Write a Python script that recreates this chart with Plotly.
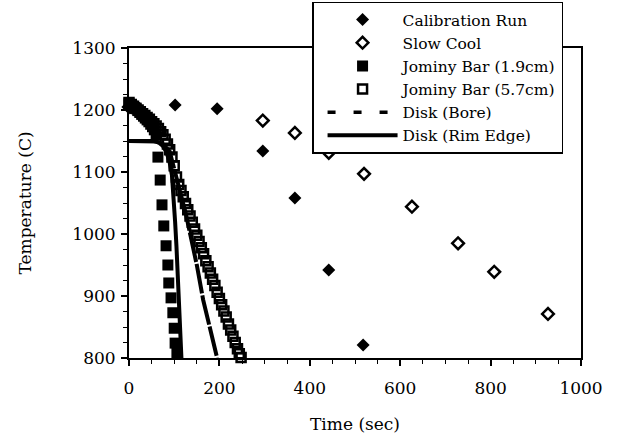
import plotly.graph_objects as go

# ---- data ----
cal_t = [0, 102, 195, 296, 367, 442, 518]
cal_T = [1205, 1208, 1202, 1134, 1058, 942, 821]

slow_t = [0, 296, 367, 442, 520, 626, 728, 808, 927]
slow_T = [1205, 1183, 1163, 1131, 1097, 1044, 985, 939, 871]

j19_t = [0, 4, 8, 12, 16, 20, 24, 28, 32, 36, 40, 44, 48, 52, 56, 60,
         64, 69, 73, 77, 82, 86, 88, 93, 97, 100, 102, 106]
j19_T = [1210, 1208, 1206, 1204, 1202, 1199, 1196, 1193, 1190, 1187, 1184, 1181, 1177, 1173, 1168, 1160,
         1124, 1087, 1047, 1013, 981, 950, 921, 897, 873, 848, 824, 808]

j57_t = [0, 5, 10, 15, 20, 25, 30, 35, 40, 45, 50, 55, 60, 65, 70, 75, 80, 85, 90, 95,
         100, 105, 110, 115, 120, 125, 130, 135, 140, 145, 150, 155, 160, 165, 170, 175,
         180, 185, 190, 195, 200, 205, 210, 215, 220, 225, 230, 235, 240, 244, 248]
j57_T = [1212, 1209, 1206, 1203, 1200, 1197, 1194, 1191, 1188, 1185, 1181, 1178, 1174, 1170, 1165, 1160,
         1153, 1145, 1136, 1124, 1110, 1092, 1080, 1070, 1060, 1049, 1039, 1029, 1019, 1008, 998, 988,
         978, 968, 957, 947, 937, 927, 917, 906, 896, 886, 876, 866, 855, 845, 835, 825, 815, 807, 801]

bore_t = [0, 30, 60, 75, 90, 100, 106, 113, 125, 135, 150, 164, 180, 195]
bore_T = [1150, 1150, 1149, 1145, 1133, 1105, 1085, 1068, 1035, 1002, 950, 894, 845, 800]

rim_t = [0, 20, 40, 55, 65, 75, 83, 90, 95, 99, 102, 105, 108, 111, 114, 116]
rim_T = [1150, 1150, 1150, 1150, 1148, 1142, 1132, 1115, 1095, 1060, 1020, 980, 930, 880, 830, 800]

x_ticks = [0, 200, 400, 600, 800, 1000]
y_ticks = [800, 900, 1000, 1100, 1200, 1300]

FONT = "DejaVu Serif"
BLACK = "black"

fig = go.Figure()

fig.add_trace(go.Scatter(x=cal_t, y=cal_T, mode="markers", name="Calibration Run",
                         marker=dict(symbol="diamond", size=10, color=BLACK), cliponaxis=False))
fig.add_trace(go.Scatter(x=slow_t, y=slow_T, mode="markers", name="Slow Cool",
                         marker=dict(symbol="diamond-open", size=9, color=BLACK,
                                     line=dict(color=BLACK, width=2.5)), cliponaxis=False))
fig.add_trace(go.Scatter(x=j19_t, y=j19_T, mode="markers", name="Jominy Bar (1.9cm)",
                         marker=dict(symbol="square", size=11, color=BLACK), cliponaxis=False))
fig.add_trace(go.Scatter(x=j57_t, y=j57_T, mode="markers", name="Jominy Bar (5.7cm)",
                         marker=dict(symbol="square-open", size=9, color=BLACK,
                                     line=dict(color=BLACK, width=2.5)), cliponaxis=False))
# legend sample for the bore line
fig.add_trace(go.Scatter(x=[None], y=[None], mode="lines", name="Disk (Bore)",
                         line=dict(color=BLACK, width=3.5, dash="8px,18px"), legendgroup="bore"))
fig.add_trace(go.Scatter(x=rim_t, y=rim_T, mode="lines", name="Disk (Rim Edge)",
                         line=dict(color=BLACK, width=4)))
fig.add_trace(go.Scatter(x=bore_t, y=bore_T, mode="lines", name="Disk (Bore)", showlegend=False,
                         legendgroup="bore",
                         line=dict(color=BLACK, width=4, dash="30px,2px")))

axis_common = dict(
    showgrid=False, zeroline=False, showline=True, linecolor=BLACK, linewidth=2,
    mirror=True, ticks="outside", ticklen=6, tickwidth=1.5, tickcolor=BLACK,
    tickfont=dict(family=FONT, size=17, color=BLACK),
)

fig.update_xaxes(range=[0, 1000], tickvals=x_ticks, ticklabelstandoff=8,
                 minor=dict(dtick=50, ticks="outside", ticklen=4, tickcolor=BLACK, tickwidth=1),
                 title=dict(text="Time (sec)", font=dict(family=FONT, size=17, color=BLACK), standoff=21),
                 **axis_common)
fig.update_yaxes(range=[800, 1300], tickvals=y_ticks, ticklabelstandoff=2,
                 minor=dict(dtick=25, ticks="outside", ticklen=4, tickcolor=BLACK, tickwidth=1),
                 title=dict(text="Temperature (C)", font=dict(family=FONT, size=17, color=BLACK), standoff=36),
                 **axis_common)

fig.update_layout(
    width=618, height=439,
    margin=dict(l=129, r=37, t=48, b=81, autoexpand=False),
    paper_bgcolor="white", plot_bgcolor="white",
    font=dict(family=FONT, size=17, color=BLACK),
    legend=dict(x=0.405, y=1.15, xanchor="left", yanchor="top",
                bgcolor="white", bordercolor=BLACK, borderwidth=1.5,
                font=dict(family=FONT, size=15.5, color=BLACK),
                itemwidth=70, indentation=9, entrywidth=186, entrywidthmode="pixels",
                tracegroupgap=0, traceorder="normal"),
    showlegend=True,
)

fig.write_html("out.html")
